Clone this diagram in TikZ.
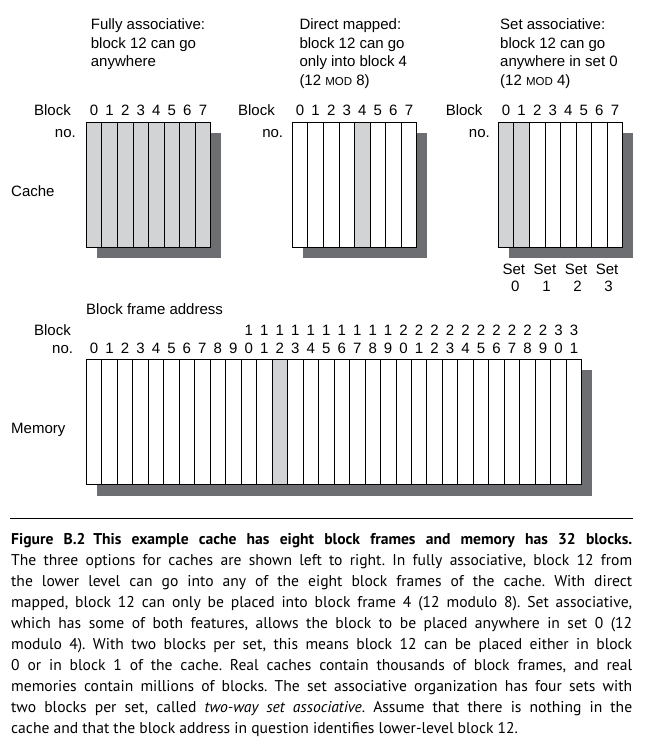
\documentclass[tikz,border=0pt]{standalone}
\usepackage{fontspec}
\setmainfont{Liberation Sans}
\newfontfamily\capfont{PT Sans}
\definecolor{cellgray}{HTML}{D1D3D4}
\definecolor{shadowgray}{HTML}{6D6E71}
\tikzset{
  cell/.style={draw=black, line width=0.8pt, minimum width=15.55pt, minimum height=125pt, inner sep=0pt, outer sep=0pt, anchor=north west},
  mcell/.style={cell, minimum width=15.48pt},
  lbl/.style={inner sep=0pt, anchor=base, font=\fontsize{15}{18}\selectfont},
  lbll/.style={lbl, anchor=base west},
  lblr/.style={lbl, anchor=base east},
  capline/.style={inner sep=0pt, anchor=base west, font=\capfont\fontsize{15.6}{18}\selectfont\frenchspacing},
  shadow/.style={fill=shadowgray}
}
\newcommand{\smallcap}[1]{{\fontsize{11.5}{12}\selectfont #1}}
\begin{document}
\begin{tikzpicture}[x=1pt,y=-1pt]
\useasboundingbox (0,0) rectangle (645,753);

% ---------- titles ----------
\node[lbll] (t1a) at (90.7,29.3) {Fully associative:};
\node[lbll] (t1b) at (90.7,48.1) {block 12 can go};
\node[lbll] (t1c) at (90.7,66.9) {anywhere};

\node[lbll] (t2a) at (299.3,29.3) {Direct mapped:};
\node[lbll] (t2b) at (299.3,48.1) {block 12 can go};
\node[lbll] (t2c) at (299.3,66.9) {only into block 4};
\node[lbll] (t2d) at (299.3,85.7) {(12 \smallcap{MOD} 8)};

\node[lbll] (t3a) at (500,29.3) {Set associative:};
\node[lbll] (t3b) at (500,48.1) {block 12 can go};
\node[lbll] (t3c) at (500,66.9) {anywhere in set 0};
\node[lbll] (t3d) at (500,85.7) {(12 \smallcap{MOD} 4)};

% ---------- cache 1: fully associative ----------
\fill[shadow] (96.6,132.5) rectangle (220.7,258.3);
\foreach \i in {0,...,7}
  \node[cell, fill=cellgray] (a\i) at ({86.3+\i*15.55},122.3) {};
\foreach \i in {0,...,7}
  \node[lbl] (an\i) at ({86.3+(\i+0.5)*15.55},115) {\i};
\node[lblr] (ab) at (71,115) {Block};
\node[lblr] (ano) at (76,137.3) {no.};
\node[lbll] (cache) at (11,196.5) {Cache};

% ---------- cache 2: direct mapped ----------
\fill[shadow] (302.6,132.5) rectangle (426.7,258.3);
\foreach \i in {0,...,7}{
  \ifnum\i=4 \def\cf{cellgray}\else\def\cf{white}\fi
  \node[cell, fill=\cf] (b\i) at ({292.3+\i*15.55},122.3) {};
}
\foreach \i in {0,...,7}
  \node[lbl] (bn\i) at ({292.3+(\i+0.5)*15.55},115) {\i};
\node[lblr] (bb) at (275,115) {Block};
\node[lblr] (bno) at (283.3,137.3) {no.};

% ---------- cache 3: set associative ----------
\fill[shadow] (508.6,132.5) rectangle (632.7,258.3);
\foreach \i in {0,...,7}{
  \ifnum\i<2 \def\cf{cellgray}\else\def\cf{white}\fi
  \node[cell, fill=\cf] (c\i) at ({498.3+\i*15.55},122.3) {};
}
\foreach \i in {0,...,7}
  \node[lbl] (cn\i) at ({498.3+(\i+0.5)*15.55},115) {\i};
\node[lblr] (cb) at (482.7,115) {Block};
\node[lblr] (cno) at (490,137.3) {no.};
\foreach \s in {0,...,3}{
  \node[lbl] (set\s) at ({498.3+(2*\s+1)*15.55},274) {Set};
  \node[lbl] (setn\s) at ({498.3+(2*\s+1)*15.55+1.5},291.5) {\s};
}

% ---------- memory ----------
\node[lbll] (bfa) at (86,314) {Block frame address};
\node[lblr] (mb) at (71,335.7) {Block};
\node[lblr] (mno) at (73.3,353.3) {no.};
\node[lbll] (mem) at (11,433) {Memory};
\fill[shadow] (96.6,369.5) rectangle (592,495.7);
\foreach \i in {0,...,31}{
  \ifnum\i=12 \def\cf{cellgray}\else\def\cf{white}\fi
  \node[mcell, fill=\cf] (m\i) at ({86.3+\i*15.48},359.3) {};
}
\foreach \i [evaluate=\i as \t using {int(\i/10)}, evaluate=\i as \u using {int(mod(\i,10))}] in {0,...,31}{
  \node[lbl] (mu\i) at ({86.3+(\i+0.5)*15.48},353.3) {\u};
  \ifnum\i>9
    \node[lbl] (mt\i) at ({86.3+(\i+0.5)*15.48},335.7) {\t};
  \fi
}

% ---------- caption ----------
\draw[line width=1pt] (10,518.3) -- (632.7,518.3);
\node[capline] (cap1) at (11,544.3) {\hbox to 621pt{\textbf{Figure B.2\hspace{0.5em}This example cache has eight block frames and memory has 32 blocks.}}};
\node[capline] (cap2) at (11,565.3) {\hbox to 621pt{The three options for caches are shown left to right. In fully associative, block 12 from}};
\node[capline] (cap3) at (11,586.3) {\hbox to 621pt{the lower level can go into any of the eight block frames of the cache. With direct}};
\node[capline] (cap4) at (11,607.3) {\hbox to 621pt{mapped, block 12 can only be placed into block frame 4 (12 modulo 8). Set associative,}};
\node[capline] (cap5) at (11,628.3) {\hbox to 621pt{which has some of both features, allows the block to be placed anywhere in set 0 (12}};
\node[capline] (cap6) at (11,649.3) {\hbox to 621pt{modulo 4). With two blocks per set, this means block 12 can be placed either in block}};
\node[capline] (cap7) at (11,670.3) {\hbox to 621pt{0 or in block 1 of the cache. Real caches contain thousands of block frames, and real}};
\node[capline] (cap8) at (11,691.3) {\hbox to 621pt{memories contain millions of blocks. The set associative organization has four sets with}};
\node[capline] (cap9) at (11,712.3) {\hbox to 621pt{two blocks per set, called \textit{two-way set associative}. Assume that there is nothing in the}};
\node[capline] (cap10) at (11,733.3) {cache and that the block address in question identifies lower-level block 12.};
\end{tikzpicture}
\end{document}
